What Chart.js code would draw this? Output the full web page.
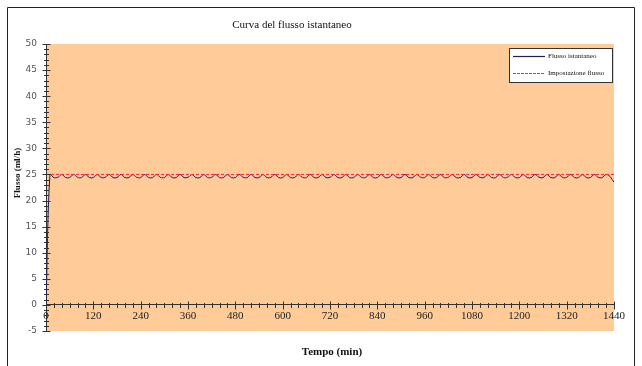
<!DOCTYPE html>
<html>
<head>
<meta charset="utf-8">
<script src="https://cdn.jsdelivr.net/npm/chart.js@4/dist/chart.umd.min.js"></script>
<style>
  html, body { margin: 0; padding: 0; background: #fff; }
</style>
</head>
<body>
<canvas id="chart" width="642" height="366"></canvas>
<script>
// data
const chartTitle = 'Curva del flusso istantaneo';
const xTitle = 'Tempo (min)';
const yTitle = 'Flusso (ml/h)';
const seriesNames = ['Flusso istantaneo', 'Impostazione flusso'];

const minutes = [
  0, 10, 20, 30, 40, 50, 60, 70, 80, 90, 100, 110,
  120, 130, 140, 150, 160, 170, 180, 190, 200, 210, 220, 230,
  240, 250, 260, 270, 280, 290, 300, 310, 320, 330, 340, 350,
  360, 370, 380, 390, 400, 410, 420, 430, 440, 450, 460, 470,
  480, 490, 500, 510, 520, 530, 540, 550, 560, 570, 580, 590,
  600, 610, 620, 630, 640, 650, 660, 670, 680, 690, 700, 710,
  720, 730, 740, 750, 760, 770, 780, 790, 800, 810, 820, 830,
  840, 850, 860, 870, 880, 890, 900, 910, 920, 930, 940, 950,
  960, 970, 980, 990, 1000, 1010, 1020, 1030, 1040, 1050, 1060, 1070,
  1080, 1090, 1100, 1110, 1120, 1130, 1140, 1150, 1160, 1170, 1180, 1190,
  1200, 1210, 1220, 1230, 1240, 1250, 1260, 1270, 1280, 1290, 1300, 1310,
  1320, 1330, 1340, 1350, 1360, 1370, 1380, 1390, 1400, 1410, 1420, 1430,
  1440
];

const flow = [
  0, 25, 24.4, 24.45, 25, 24.4, 24.4, 25, 24.45, 24.4, 25, 24.4,
  24.4, 25, 24.4, 24.45, 25, 24.4, 24.4, 25, 24.4, 24.4, 25, 24.45,
  24.4, 25, 24.4, 24.4, 25, 24.45, 24.4, 25, 24.4, 24.4, 25, 24.4,
  24.45, 25, 24.4, 24.4, 25, 24.4, 24.45, 25, 24.4, 24.4, 25, 24.4,
  24.4, 25, 24.45, 24.4, 25, 24.4, 24.4, 25, 24.4, 24.45, 25, 24.4,
  24.4, 25, 24.4, 24.4, 25, 24.45, 24.4, 25, 24.4, 24.4, 25, 24.4,
  24.45, 25, 24.4, 24.4, 25, 24.4, 24.4, 25, 24.45, 24.4, 25, 24.4,
  24.4, 25, 24.4, 24.45, 25, 24.4, 24.4, 25, 24.4, 24.4, 25, 24.45,
  24.4, 25, 24.4, 24.4, 25, 24.4, 24.45, 25, 24.4, 24.4, 25, 24.4,
  24.4, 25, 24.45, 24.4, 25, 24.4, 24.4, 25, 24.4, 24.45, 25, 24.4,
  24.4, 25, 24.4, 24.4, 25, 24.45, 24.4, 25, 24.4, 24.4, 25, 24.4,
  24.45, 25, 24.4, 24.4, 25, 24.4, 24.4, 25, 24.45, 24.4, 25, 24.6,
  23.5
];

const setMinutes = [0, 1440];
const setFlow = [25, 25];

const xTicks = { min: 0, max: 1440, step: 120, minor: 20 };
const yTicks = { min: -5, max: 50, step: 5, minor: 1 };

const PLOT_BG = '#ffcc99';
const AXIS = '#333';
const FLOW_COLOR = '#1f1f5a';
const SET_COLOR = '#ff2244';
const SERIF = '"Liberation Serif", "Times New Roman", serif';

function points(xs, ys) {
  return xs.map((x, i) => ({ x: x, y: ys[i] }));
}

// background, frame, tick marks, titles and legend box
const decor = {
  id: 'decor',
  beforeDraw(chart) {
    const ctx = chart.ctx, a = chart.chartArea;
    ctx.save();
    ctx.fillStyle = '#fff';
    ctx.fillRect(0, 0, chart.width, chart.height);
    ctx.strokeStyle = '#222';
    ctx.lineWidth = 1;
    ctx.beginPath();
    ctx.moveTo(7.5, chart.height);
    ctx.lineTo(7.5, 7.5);
    ctx.lineTo(634.5, 7.5);
    ctx.lineTo(634.5, chart.height);
    ctx.stroke();
    ctx.fillStyle = PLOT_BG;
    ctx.fillRect(a.left, a.top, a.right - a.left, a.bottom - a.top);
    ctx.restore();
  },
  afterDraw(chart) {
    const ctx = chart.ctx;
    const xs = chart.scales.x, ys = chart.scales.y;
    const x0 = Math.round(xs.getPixelForValue(0)) + 0.5;
    const y0 = Math.round(ys.getPixelForValue(0)) + 0.5;
    ctx.save();
    ctx.strokeStyle = AXIS;
    ctx.lineWidth = 1;
    ctx.beginPath();
    for (let v = yTicks.min; v <= yTicks.max; v += yTicks.minor) {
      const p = Math.round(ys.getPixelForValue(v)) + 0.5;
      const h = v % yTicks.step === 0 ? 4 : 2.5;
      ctx.moveTo(x0 - h, p);
      ctx.lineTo(x0 + h, p);
    }
    for (let v = xTicks.min; v <= xTicks.max; v += xTicks.minor) {
      const p = Math.round(xs.getPixelForValue(v)) + 0.5;
      const h = v % xTicks.step === 0 ? 4 : 2.5;
      ctx.moveTo(p, y0 - h);
      ctx.lineTo(p, y0 + h);
    }
    ctx.stroke();

    // titles
    ctx.fillStyle = '#111';
    ctx.textAlign = 'center';
    ctx.textBaseline = 'middle';
    ctx.font = '11px ' + SERIF;
    ctx.fillText(chartTitle, 292, 25);
    ctx.font = 'bold 11px ' + SERIF;
    ctx.fillText(xTitle, 332, 352);
    ctx.save();
    ctx.translate(18, 173);
    ctx.rotate(-Math.PI / 2);
    ctx.font = 'bold 9px ' + SERIF;
    ctx.fillText(yTitle, 0, 0);
    ctx.restore();

    // legend
    const bx = 509.5, by = 48.5, bw = 103, bh = 34;
    ctx.fillStyle = '#fff';
    ctx.fillRect(bx, by, bw, bh);
    ctx.strokeStyle = '#333';
    ctx.strokeRect(bx, by, bw, bh);
    ctx.font = '7px ' + SERIF;
    ctx.textAlign = 'left';
    const rows = [
      { label: seriesNames[0], color: FLOW_COLOR, dash: [], y: 56.5 },
      { label: seriesNames[1], color: SET_COLOR, dash: [3, 1], y: 73.5 }
    ];
    rows.forEach((r) => {
      ctx.strokeStyle = r.color;
      ctx.lineWidth = 1.2;
      ctx.setLineDash(r.dash);
      ctx.beginPath();
      ctx.moveTo(513, r.y);
      ctx.lineTo(545, r.y);
      ctx.stroke();
      ctx.setLineDash([]);
      ctx.fillStyle = '#111';
      ctx.fillText(r.label, 548, r.y);
    });
    ctx.restore();
  }
};

const myChart = new Chart('chart', {
  type: 'line',
  data: {
    datasets: [
      {
        label: seriesNames[0],
        data: points(minutes, flow),
        borderColor: FLOW_COLOR,
        borderWidth: 1,
        pointRadius: 0,
        tension: 0.35,
        order: 1
      },
      {
        label: seriesNames[1],
        data: points(setMinutes, setFlow),
        borderColor: SET_COLOR,
        borderWidth: 1,
        borderDash: [3, 2],
        pointRadius: 0,
        order: 0
      }
    ]
  },
  options: {
    responsive: false,
    animation: false,
    layout: { padding: { left: 0, top: 44, right: 28, bottom: 35 } },
    plugins: {
      legend: { display: false },
      title: { display: false },
      tooltip: { enabled: false }
    },
    scales: {
      x: {
        type: 'linear',
        position: { y: 0 },
        min: xTicks.min,
        max: xTicks.max,
        afterFit: (s) => { s.paddingLeft = 0; s.paddingRight = 0; },
        grid: { display: false, drawTicks: false },
        border: { display: true, color: AXIS, width: 1 },
        ticks: {
          stepSize: xTicks.step,
          padding: 5,
          maxRotation: 0,
          autoSkip: false,
          color: '#222',
          font: { family: SERIF, size: 11 },
          callback: (v) => String(v)
        }
      },
      y: {
        type: 'linear',
        position: 'left',
        min: yTicks.min,
        max: yTicks.max,
        afterFit: (s) => { s.width = 46; s.paddingTop = 0; s.paddingBottom = 0; },
        grid: { display: false, drawTicks: false },
        border: { display: true, color: AXIS, width: 1 },
        ticks: {
          stepSize: yTicks.step,
          padding: 9,
          color: '#555',
          font: { family: '"DejaVu Sans", sans-serif', size: 9 }
        }
      }
    }
  },
  plugins: [decor]
});
</script>
</body>
</html>
